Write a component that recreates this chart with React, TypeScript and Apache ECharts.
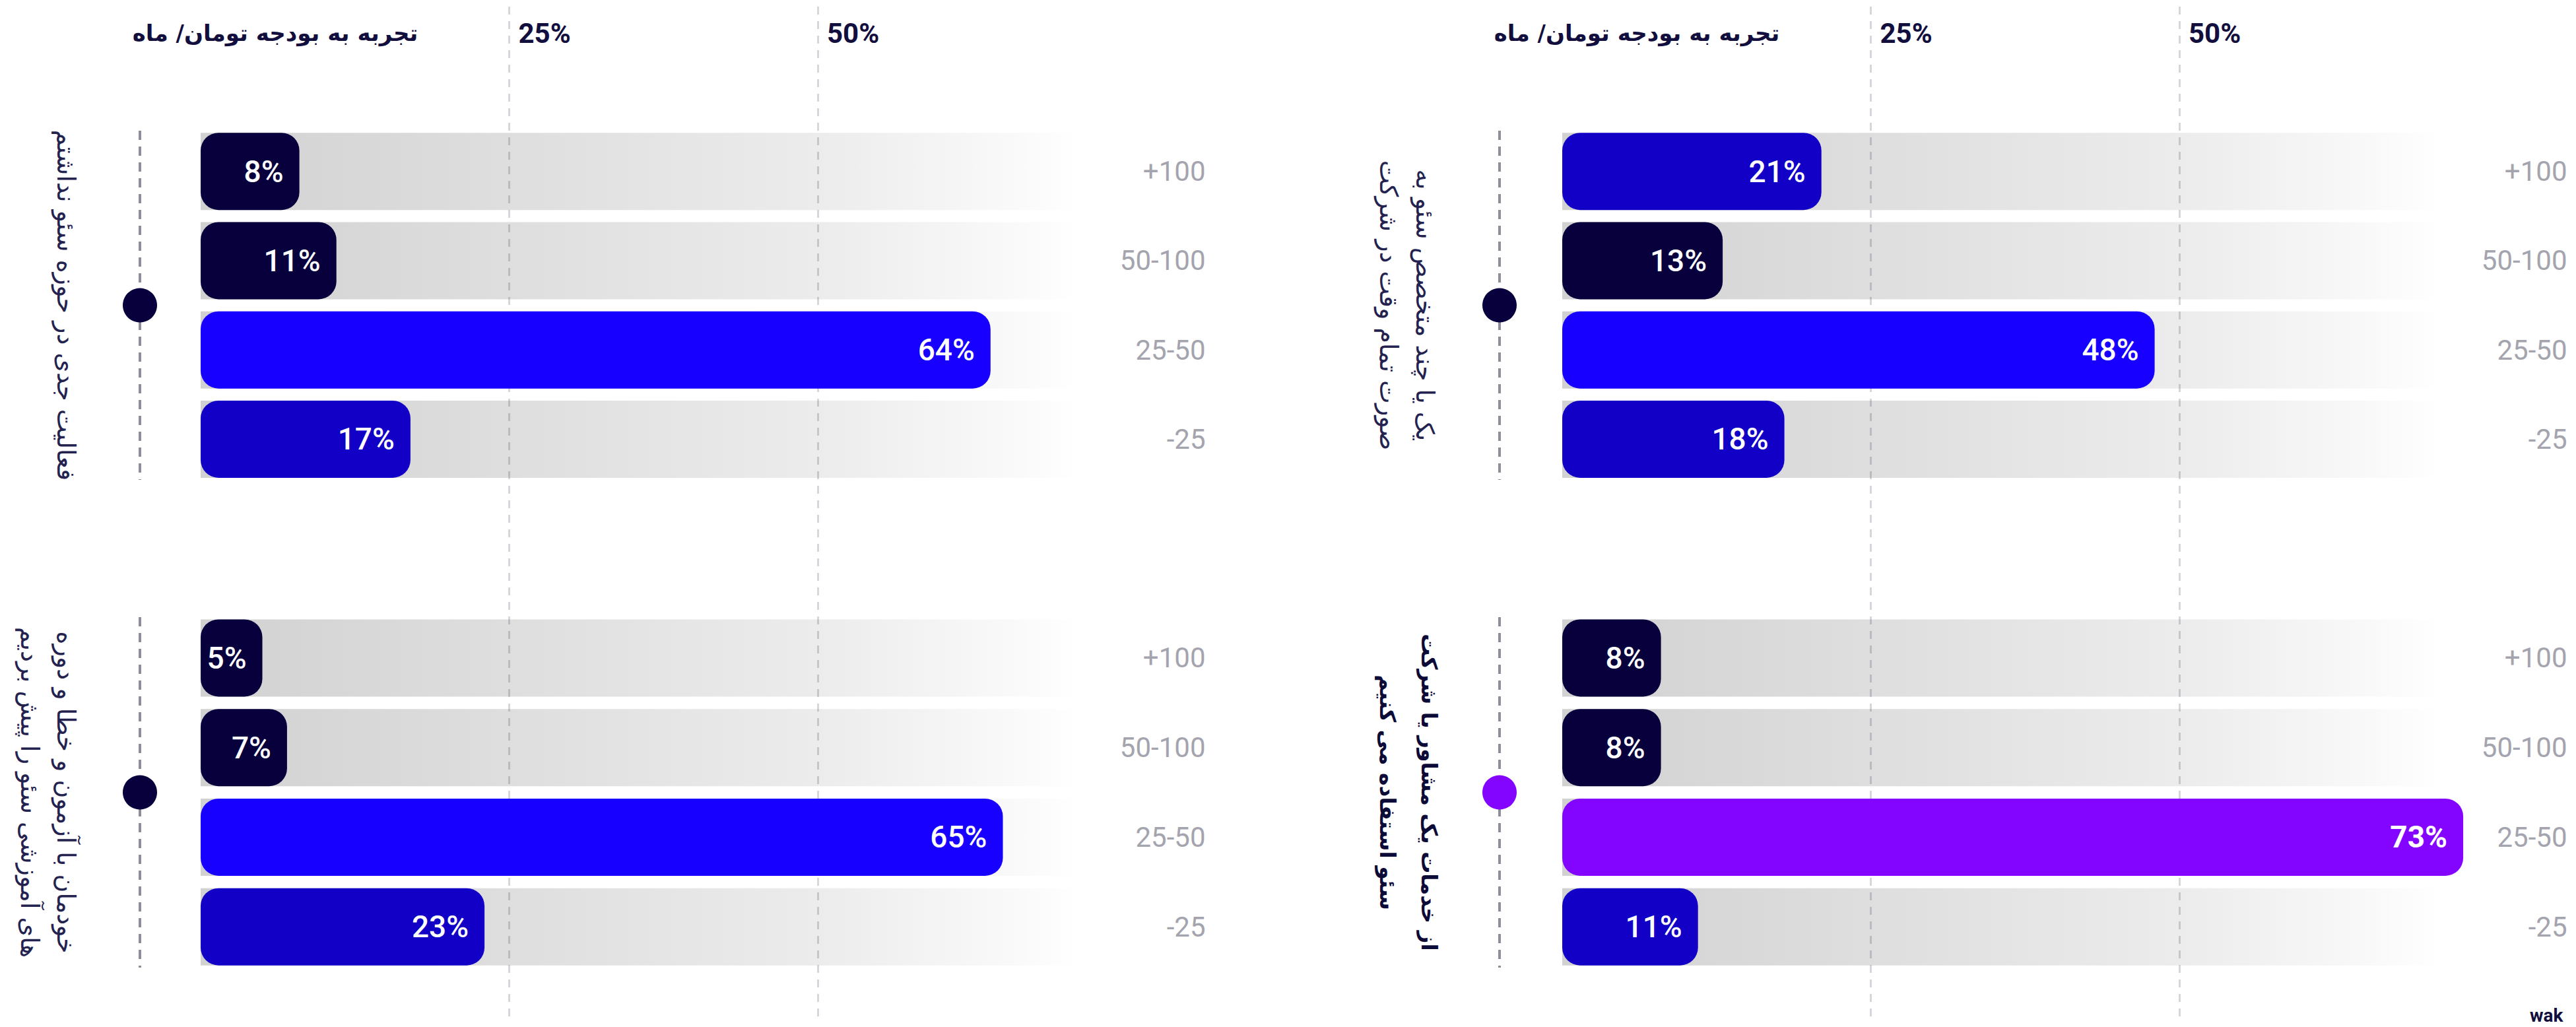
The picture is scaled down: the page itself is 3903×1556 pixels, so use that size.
import React, { useEffect, useRef } from "react";
import * as echarts from "echarts";

// ---------- data ----------
const CATEGORIES = ["+100", "50-100", "25-50", "-25"];
const TL_VALUES = [8, 11, 64, 17];
const TR_VALUES = [21, 13, 48, 18];
const BL_VALUES = [5, 7, 65, 23];
const BR_VALUES = [8, 8, 73, 11];
const X_TICKS = [25, 50];
const HEADER = "تجربه به بودجه تومان/ ماه";
const TITLE_TL = "فعالیت جدی در حوزه سئو نداشتم";
const TITLE_TR = "یک یا چند متخصص سئو به\nصورت تمام وقت در شرکت";
const TITLE_BL = "خودمان با آزمون و خطا و دوره\nهای آموزشی سئو را پیش بردیم";
const TITLE_BR = "از خدمات یک مشاور یا شرکت\nسئو استفاده می کنیم";
const WATERMARK = "wak";

// ---------- styles ----------
const DARK = "#07003c";
const BRIGHT = "#1700ff";
const MEDIUM = "#1200c6";
const PURPLE = "#8305ff";
const TL_COLORS = [DARK, DARK, BRIGHT, MEDIUM];
const TR_COLORS = [MEDIUM, DARK, BRIGHT, MEDIUM];
const BL_COLORS = [DARK, DARK, BRIGHT, MEDIUM];
const BR_COLORS = [DARK, DARK, PURPLE, MEDIUM];

const W = 3903;
const H = 1556;
const X_MAX = 75;
const GRID_W = 1402.5;
const COL_LEFT = [304, 2367];
const ROW_TOP = [192, 929];
const ROW_H = [541, 543];
const LINE_X = [212, 2272];
const FONT_FA = "'DejaVu Sans', 'Noto Sans', sans-serif";
const FONT_NUM = "Roboto, 'Noto Sans', sans-serif";

export default function App() {
  const ref = useRef<HTMLDivElement>(null);

  useEffect(() => {
    document.body.style.margin = "0";
    const chart = echarts.init(ref.current!, null, { renderer: "svg" });

    const panels = [
      { values: TL_VALUES, colors: TL_COLORS, col: 0, row: 0 },
      { values: TR_VALUES, colors: TR_COLORS, col: 1, row: 0 },
      { values: BL_VALUES, colors: BL_COLORS, col: 0, row: 1 },
      { values: BR_VALUES, colors: BR_COLORS, col: 1, row: 1 },
    ];

    const grids: any[] = [];
    const xAxes: any[] = [];
    const yAxes: any[] = [];
    const series: any[] = [];

    // gridline grids (one per column, full height)
    [0, 1].forEach((c) => {
      grids.push({
        left: COL_LEFT[c],
        top: 10,
        width: GRID_W,
        height: 1535,
        outerBoundsMode: "none",
        containLabel: false,
      });
      xAxes.push({
        type: "value",
        gridIndex: c,
        position: "top",
        min: 0,
        max: X_MAX,
        interval: 25,
        axisLine: { show: false },
        axisTick: { show: false },
        splitLine: {
          show: true,
          showMinLine: false,
          showMaxLine: false,
          lineStyle: { color: "#d6d6dc", width: 3, type: [12, 10] },
        },
        axisLabel: {
          inside: true,
          margin: 40,
          align: "left",
          verticalAlign: "middle",
          padding: [0, 0, 0, 14],
          fontSize: 42,
          fontWeight: "bold",
          fontFamily: FONT_NUM,
          color: "#120f3e",
          formatter: (v: number) => (X_TICKS.includes(v) ? v + "%" : ""),
        },
      });
      yAxes.push({ type: "value", gridIndex: c, show: false, min: 0, max: 1 });
    });

    const bgGradient = new echarts.graphic.LinearGradient(0, 0, 1, 0, [
      { offset: 0, color: "rgba(0,0,0,0.18)" },
      { offset: 0.33, color: "rgba(0,0,0,0.13)" },
      { offset: 0.67, color: "rgba(0,0,0,0.075)" },
      { offset: 0.87, color: "rgba(0,0,0,0.025)" },
      { offset: 0.95, color: "rgba(0,0,0,0)" },
    ]);

    panels.forEach((p, i) => {
      const gi = i + 2;
      grids.push({
        left: COL_LEFT[p.col],
        top: ROW_TOP[p.row],
        width: GRID_W,
        height: ROW_H[p.row],
        outerBoundsMode: "none",
        containLabel: false,
      });
      xAxes.push({ type: "value", gridIndex: gi, min: 0, max: X_MAX, show: false });
      yAxes.push({
        type: "category",
        gridIndex: gi,
        data: CATEGORIES,
        inverse: true,
        position: "right",
        axisLine: { show: false },
        axisTick: { show: false },
        splitLine: { show: false },
        axisLabel: {
          margin: 120,
          align: "right",
          fontSize: 42,
          fontFamily: FONT_NUM,
          color: "#a4a4ae",
        },
      });
      series.push({
        type: "bar",
        xAxisIndex: gi,
        yAxisIndex: gi,
        barWidth: 117,
        showBackground: true,
        backgroundStyle: { color: bgGradient, borderRadius: 0 },
        itemStyle: { borderRadius: 27 },
        z: 3,
        label: {
          show: true,
          position: "insideRight",
          distance: 24,
          formatter: "{c}%",
          color: "#ffffff",
          fontSize: 46,
          fontWeight: 500,
          fontFamily: FONT_NUM,
        },
        data: p.values.map((v, j) => ({
          value: v,
          itemStyle: { color: p.colors[j] },
          label: p.colors[j] === PURPLE ? { fontWeight: "bold" } : undefined,
        })),
      });
    });

    const graphic: any[] = [];
    // headers
    [0, 1].forEach((c) => {
      graphic.push({
        type: "text",
        x: COL_LEFT[c] + 113,
        y: 50,
        style: {
          text: HEADER,
          fill: "#120f3e",
          font: `bold 34px ${FONT_FA}`,
          textAlign: "center",
          textVerticalAlign: "middle",
        },
      });
    });
    // dashed lines and dots
    [0, 1].forEach((r) => {
      const top = ROW_TOP[r];
      const bottom = ROW_TOP[r] + ROW_H[r];
      const mid = (top + bottom) / 2;
      [0, 1].forEach((c) => {
        graphic.push({
          type: "line",
          shape: { x1: LINE_X[c], y1: top + 6, x2: LINE_X[c], y2: bottom - 6 },
          style: { stroke: "#8d8d9c", lineWidth: 4, lineDash: [14, 10] },
        });
        graphic.push({
          type: "circle",
          shape: { cx: LINE_X[c], cy: mid, r: 26 },
          style: { fill: r === 1 && c === 1 ? PURPLE : DARK },
        });
      });
    });
    // rotated titles
    const titles = [
      { text: TITLE_TL, x: 100, y: (ROW_TOP[0] * 2 + ROW_H[0]) / 2, bold: false },
      { text: TITLE_TR, x: 2131, y: (ROW_TOP[0] * 2 + ROW_H[0]) / 2, bold: false },
      { text: TITLE_BL, x: 72, y: (ROW_TOP[1] * 2 + ROW_H[1]) / 2, bold: false },
      { text: TITLE_BR, x: 2134, y: (ROW_TOP[1] * 2 + ROW_H[1]) / 2, bold: true },
    ];
    titles.forEach((t) => {
      graphic.push({
        type: "text",
        x: t.x,
        y: t.y,
        rotation: -Math.PI / 2,
        style: {
          text: t.text,
          fill: t.bold ? "#0c0a36" : "#24224f",
          font: `${t.bold ? "bold 33px" : "38px"} ${FONT_FA}`,
          lineHeight: t.bold ? 63 : 55,
          textAlign: "center",
          textVerticalAlign: "middle",
        },
      });
    });
    graphic.push({
      type: "text",
      x: 3833,
      y: 1524,
      style: {
        text: WATERMARK,
        fill: "#120f3e",
        font: `bold 28px ${FONT_NUM}`,
        textAlign: "left",
        textVerticalAlign: "top",
      },
    });

    chart.setOption({
      animation: false,
      backgroundColor: "#ffffff",
      grid: grids,
      xAxis: xAxes,
      yAxis: yAxes,
      series,
      graphic,
    });

    return () => chart.dispose();
  }, []);

  return <div ref={ref} style={{ width: W, height: H }} />;
}
